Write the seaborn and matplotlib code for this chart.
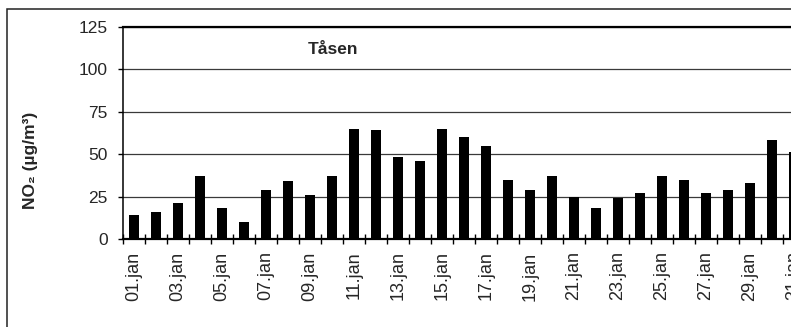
import numpy as np
import pandas as pd
import matplotlib
matplotlib.use("Agg")
import matplotlib.pyplot as plt
from matplotlib.patches import Rectangle
import seaborn as sns

# Daily mean NO2 at Tåsen, January
days = [f"{d:02d}.jan" for d in range(1, 32)]
no2 = [14, 16, 21, 37, 18, 10, 29, 34, 26, 37,
       65, 64, 48, 46, 65, 60, 55, 35, 29, 37,
       25, 18, 24, 27, 37, 35, 27, 29, 33, 58, 51]
y_ticks = [0, 25, 50, 75, 100, 125]
station = "Tåsen"

sns.set_theme(style="white")
plt.rcParams["font.family"] = ["Liberation Sans", "DejaVu Sans"]

df = pd.DataFrame({"day": days, "no2": no2})

W, H = 791, 327
fig = plt.figure(figsize=(W / 100, H / 100), dpi=100)
fig.patch.set_facecolor("white")

# plot area runs past the right edge of the canvas
left, right, top, bottom = 123, 805, 26.7, 239
ax = fig.add_axes([left / W, 1 - bottom / H, (right - left) / W, (bottom - top) / H])

sns.barplot(data=df, x="day", y="no2", color="black", saturation=1,
            width=0.48, ax=ax, edgecolor="black", linewidth=0)

ax.set_xlim(-0.5, len(days) - 0.5)
ax.set_ylim(0, 125)
ax.set_yticks(y_ticks)
ax.set_yticklabels([str(v) for v in y_ticks], fontsize=12.5)
ax.set_xlabel("")
ax.set_ylabel("")

# category boundaries carry the tick marks, every second day carries a label
ax.set_xticks(np.arange(-0.5, len(days) + 0.5, 1.0))
ax.set_xticklabels([])
ax.set_xticks(np.arange(0, len(days), 2), minor=True)
ax.set_xticklabels(days[::2], minor=True, rotation=90, fontsize=13)
ax.tick_params(axis="x", which="major", direction="inout", length=7.5,
               width=1, color="black", bottom=True)
ax.tick_params(axis="x", which="minor", length=0, pad=9, bottom=True)
ax.tick_params(axis="y", direction="out", length=3.8, width=1, color="black",
               left=True, pad=7)

ax.yaxis.grid(True, color="#3a3a3a", linewidth=0.9)
ax.set_axisbelow(True)
for s in ["left", "bottom", "top"]:
    ax.spines[s].set_visible(True)
    ax.spines[s].set_color("black")
ax.spines["left"].set_linewidth(1.1)
ax.spines["bottom"].set_linewidth(1.6)
ax.spines["top"].set_linewidth(1.6)
ax.spines["right"].set_visible(False)

fig.text(333 / W, 1 - 49 / H, station, fontsize=12.5, fontweight="bold",
         ha="center", va="center")

fig.text(31 / W, 1 - 160 / H, "NO₂ (µg/m³)", rotation=90, fontsize=12.5,
         fontweight="bold", ha="center", va="center")

# chart frame
fig.patches.append(Rectangle((7 / W, -0.1), 1.2, 1 - 9 / H + 0.1,
                             transform=fig.transFigure, fill=False,
                             edgecolor="#222222", linewidth=1.1))

fig.savefig("out.png", dpi=100)
